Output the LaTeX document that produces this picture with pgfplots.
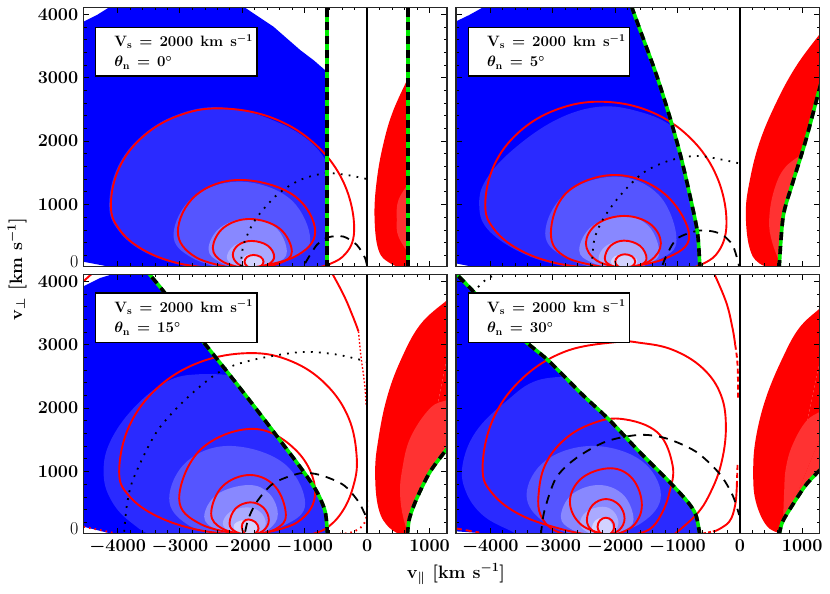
\RequirePackage{fix-cm}
\documentclass[border=0pt]{standalone}
\usepackage{pgfplots}
\usepackage{pgfplotstable}
\usepackage{amsmath}
\pgfplotsset{compat=1.18}

\definecolor{bA}{RGB}{0,0,255}
\definecolor{bB}{RGB}{42,42,255}
\definecolor{bC}{RGB}{85,85,255}
\definecolor{bD}{RGB}{136,136,255}
\definecolor{bE}{RGB}{170,170,255}
\definecolor{bF}{RGB}{210,210,255}
\definecolor{rA}{RGB}{255,0,0}
\definecolor{rB}{RGB}{255,50,50}
\definecolor{shockgreen}{RGB}{0,235,0}

% shock curves, left and right branches
\pgfplotstableread{
x y
-646 0
-646 4200
}\shockAl
\pgfplotstableread{
x y
652 0
652 4200
}\shockAr
\pgfplotstableread{
x y
-636 0
-641 24
-678 549
-785 1074
-946 1756
-1133 2412
-1346 3069
-1560 3646
-1731 4108
-1780 4250
}\shockBl
\pgfplotstableread{
x y
630 0
694 811
844 1336
1058 2019
1282 2848
1340 3050
}\shockBr
\pgfplotstableread{
x y
-636 0
-673 368
-807 684
-1020 1000
-1341 1421
-1768 1974
-2142 2447
-2569 2974
-2890 3368
-3264 3842
-3494 4116
-3600 4250
}\shockCl
\pgfplotstableread{
x y
646 0
678 263
796 579
1010 1000
1287 1368
1340 1440
}\shockCr
\pgfplotstableread{
x y
-641 0
-705 316
-839 526
-1133 842
-1613 1315
-2094 1816
-2521 2210
-3056 2737
-3376 3000
-3857 3395
-4284 3852
-4509 4079
-4650 4220
}\shockDl
\pgfplotstableread{
x y
630 0
684 210
844 474
1058 789
1282 1026
1340 1090
}\shockDr

\pgfplotsset{
  panel/.style={
    scale only axis, width=363.7pt, height=259.4pt,
    anchor=south west,
    xmin=-4550, xmax=1280, ymin=22, ymax=4110,
    xtick={-4000,-3000,-2000,-1000,0,1000},
    ytick={0,1000,2000,3000,4000},
    minor tick num=4,
    tick align=inside,
    xtick pos=both, ytick pos=both,
    major tick length=6pt, minor tick length=3.2pt,
    tick style={black,line width=1pt},
    minor tick style={black,line width=0.9pt},
    axis line style={line width=1.5pt,black!85},
    axis on top,
    no markers,
    scaled ticks=false,
    tick label style={font=\fontsize{18}{18}\selectfont\boldmath},
    xticklabel style={yshift=-3pt},
    yticklabel style={xshift=-1.5pt},
    /pgf/number format/1000 sep={},
    extra y ticks={95},
    extra y tick labels={0},
    extra y tick style={major tick length=0pt,tick style={draw=none}},
  },
  nox/.style={xticklabels={}},
  noy/.style={yticklabels={},extra y tick labels={}},
  fl/.style={fill=#1,draw=none,smooth,tension=0.65,forget plot},
  bl/.style={fill=#1,draw=none,forget plot},
  seam/.style={fill=#1,draw=#1,line width=0.8pt,forget plot},
  ct/.style={rA,line width=1.9pt,smooth,tension=0.65,forget plot},
  sh/.style={shockgreen,line width=3.6pt,smooth,forget plot},
  shk/.style={black,line width=3.6pt,smooth,dash pattern=on 8pt off 6pt,forget plot},
  dots/.style={black,line width=1.8pt,smooth,dash pattern=on 1.8pt off 6.2pt,forget plot},
  dashes/.style={black,line width=1.8pt,smooth,dash pattern=on 9pt off 7pt,forget plot},
  zero/.style={black,line width=1.5pt,forget plot},
}
\newcommand{\infobox}[3]{%
  \draw[line width=1.5pt,black,fill=white] (rel axis cs:0.034,#2) rectangle (rel axis cs:0.477,#3);
  \node[anchor=base west,inner sep=0pt,font=\fontsize{15}{16}\selectfont\bfseries\boldmath]
    at (rel axis cs:0.085,#2-0.074) {V$_{\mathbf{s}}$\hspace{7pt}=\hspace{7pt}2000\hspace{7pt}km\hspace{7pt}s$^{-1}$};
  \node[anchor=base west,inner sep=0pt,font=\fontsize{15}{16}\selectfont\bfseries\boldmath]
    at (rel axis cs:0.085,#2-0.153) {$\theta_{\mathbf{n}}$\hspace{7pt}=\hspace{7pt}#1$^{\circ}$};
}

\begin{document}
\begin{tikzpicture}[x=1pt,y=1pt]
\useasboundingbox (0,0) rectangle (830,594);

% ---------- theta = 0
\begin{axis}[panel,nox,at={(83.3pt,327.3pt)}]
\addplot[bl=bA] coordinates {(-4550,100)(-4012,0)(-646,0)(-646,3095)(-850,3270)(-1074,3437)(-1501,3804)(-1982,4120)(-4118,4120)(-4332,3988)(-4550,3882)};
\addplot[fl=bB] coordinates {(-2356,-50)(-3040,60)(-3620,280)(-4000,610)(-4135,995)(-4000,1590)(-3610,2085)(-3035,2420)(-2356,2533)(-1533,2340)(-837,1920)(-500,1300)(-400,600)(-400,-50)};
\addplot[fl=bC] coordinates {(-2035,-80)(-2791,153)(-3104,522)(-2791,1116)(-2035,1362)(-1242,1095)(-913,450)(-1242,132)(-2035,-80)};
\addplot[fl=bD] coordinates {(-1875,-50)(-2347,88)(-2543,300)(-2347,643)(-1875,785)(-1459,631)(-1287,260)(-1459,76)(-1875,-50)};
\addplot[fl=bE] coordinates {(-1848,-40)(-2131,50)(-2249,170)(-2131,356)(-1848,433)(-1610,356)(-1512,170)(-1610,50)(-1848,-40)};
\addplot[fl=bF] coordinates {(-1848,-30)(-1962,29)(-2009,100)(-1962,187)(-1848,223)(-1710,187)(-1650,100)(-1710,29)(-1848,-30)};
\addplot[bl=white] coordinates {(-646,-100)(-646,4300)(60,4300)(60,-100)};
\addplot[fl=rA] coordinates {(700,-50)(369,76)(182,286)(118,811)(155,1389)(262,1966)(422,2491)(700,3080)};
\addplot[fl=rB] coordinates {(700,1380)(502,1074)(475,759)(502,496)(700,180)};
\addplot[bl=white] coordinates {(652,-100)(652,4300)(1400,4300)(1400,-100)};
\addplot[ct] coordinates {(-850,-10)(-396,176)(-208,601)(-371,1335)(-837,1956)(-1533,2371)(-2356,2517)(-3027,2401)(-3595,2071)(-3975,1578)(-4108,995)(-3975,614)(-3595,291)(-3027,76)(-2356,-10)};
\addplot[ct] coordinates {(-2035,-20)(-2741,168)(-3034,575)(-2741,1151)(-2035,1389)(-1185,1151)(-833,575)(-1185,168)(-2035,-20)};
\addplot[ct] coordinates {(-1875,-20)(-2298,92)(-2473,313)(-2298,639)(-1875,774)(-1403,623)(-1207,260)(-1403,76)(-1875,-20)};
\addplot[ct] coordinates {(-1848,-20)(-2064,61)(-2153,208)(-2064,364)(-1848,428)(-1595,355)(-1490,180)(-1595,53)(-1848,-20)};
\addplot[ct] coordinates {(-1822,-20)(-1924,29)(-1966,100)(-1924,176)(-1822,207)(-1708,176)(-1661,100)(-1708,29)(-1822,-20)};
\addplot[dots] coordinates {(-2025,24)(-1982,365)(-1795,759)(-1448,1152)(-1074,1389)(-673,1494)(-326,1467)(-5,1404)};
\addplot[dashes] coordinates {(-994,76)(-807,365)(-620,486)(-379,496)(-166,365)(-32,155)(0,0)};
\addplot[sh] table {\shockAl};
\addplot[shk] table {\shockAl};
\addplot[sh] table {\shockAr};
\addplot[shk] table {\shockAr};
\addplot[zero] coordinates {(0,0)(0,4200)};
\infobox{0}{0.923}{0.735}
\end{axis}

% ---------- theta = 5
\begin{axis}[panel,nox,noy,at={(456pt,327.3pt)}]
\addplot[bl=bA] coordinates {(-4562,76)(-4178,0)(-636,0)(-641,24)(-678,549)(-785,1074)(-946,1756)(-1133,2412)(-1346,3069)(-1560,3646)(-1731,4108)(-1780,4120)(-4097,4120)(-4338,3988)(-4562,3882)};
\addplot[fl=bB] coordinates {(-2254,-50)(-2960,60)(-3560,270)(-4050,620)(-4178,995)(-4071,1389)(-3643,1861)(-2949,2334)(-2254,2543)(-1613,2465)(-1079,2229)(-700,1800)(-400,900)(-400,-50)};
\addplot[fl=bC] coordinates {(-1987,-80)(-2788,161)(-3120,549)(-2788,1180)(-1987,1441)(-1300,1153)(-1015,450)(-1300,132)(-1987,-80)};
\addplot[fl=bD] coordinates {(-1854,-50)(-2364,84)(-2575,286)(-2364,665)(-1854,822)(-1457,654)(-1293,250)(-1457,73)(-1854,-50)};
\addplot[fl=bE] coordinates {(-1854,-40)(-2145,45)(-2265,155)(-2145,351)(-1854,433)(-1601,351)(-1496,155)(-1601,45)(-1854,-40)};
\addplot[fl=bF] coordinates {(-1854,-30)(-2005,29)(-2067,100)(-2005,187)(-1854,223)(-1703,187)(-1640,100)(-1703,29)(-1854,-30)};
\addplot[bl=white] coordinates {(-636,-100)(-641,24)(-678,549)(-785,1074)(-946,1756)(-1133,2412)(-1346,3069)(-1560,3646)(-1731,4108)(-1780,4250)(60,4250)(60,-100)};
\addplot[fl=rA] coordinates {(680,-50)(310,76)(150,339)(96,864)(150,1336)(310,1966)(577,2596)(897,3174)(1290,3699)(1500,3950)};
\addplot[seam=rA] coordinates {(680,-50)(1500,-50)(1500,3950)};
\addplot[fl=rB] coordinates {(1100,1850)(737,1599)(550,1231)(470,759)(523,391)(700,-50)};
\addplot[bl=white] coordinates {(630,-100)(630,24)(694,811)(844,1336)(1058,2019)(1282,2848)(1340,3050)(1600,3050)(1600,-100)};
\addplot[ct] coordinates {(-800,-10)(-386,205)(-214,700)(-367,1436)(-804,2059)(-1457,2476)(-2228,2622)(-2938,2498)(-3538,2145)(-3940,1618)(-4081,995)(-3940,614)(-3538,291)(-2938,76)(-2228,-10)};
\addplot[ct] coordinates {(-1987,-10)(-2766,161)(-3029,549)(-2766,1198)(-1987,1467)(-1208,1171)(-812,500)(-1208,146)(-1987,-10)};
\addplot[ct] coordinates {(-1854,-10)(-2288,115)(-2468,391)(-2288,696)(-1854,822)(-1438,696)(-1266,391)(-1438,115)(-1854,-10)};
\addplot[ct] coordinates {(-1854,-10)(-2073,45)(-2164,155)(-2073,351)(-1854,433)(-1601,351)(-1496,155)(-1601,45)(-1854,-10)};
\addplot[ct] coordinates {(-1843,-10)(-1952,29)(-1998,100)(-1952,183)(-1843,218)(-1726,183)(-1677,100)(-1726,29)(-1843,-10)};
\addplot[dots] coordinates {(-2372,24)(-2334,443)(-2201,759)(-1934,1126)(-1560,1494)(-1133,1693)(-652,1767)(-11,1651)};
\addplot[dashes] coordinates {(-1239,50)(-1159,234)(-999,470)(-652,591)(-331,549)(-118,365)(-11,24)};
\addplot[sh] table {\shockBl};
\addplot[shk] table {\shockBl};
\addplot[sh] table {\shockBr};
\addplot[shk] table {\shockBr};
\addplot[zero] coordinates {(0,0)(0,4200)};
\infobox{5}{0.923}{0.735}
\end{axis}

% ---------- theta = 15
\begin{axis}[panel,at={(83.3pt,60.3pt)}]
\addplot[bl=bA] coordinates {(-4546,132)(-4012,0)(-636,0)(-673,368)(-807,684)(-1020,1000)(-1341,1421)(-1768,1974)(-2142,2447)(-2569,2974)(-2890,3368)(-3264,3842)(-3494,4116)(-4065,4116)(-4279,4052)(-4546,3921)};
\addplot[fl=bB] coordinates {(-1900,2500)(-2676,2536)(-3211,2420)(-3745,2000)(-4119,1473)(-4225,1000)(-4119,579)(-3798,210)(-3264,-50)(-2000,-150)(-400,-150)(-400,1500)};
\addplot[fl=bC] coordinates {(-2196,-80)(-2887,170)(-3173,579)(-2887,1163)(-2196,1405)(-1346,1139)(-994,500)(-1346,146)(-2196,-80)};
\addplot[fl=bD] coordinates {(-1902,-50)(-2404,85)(-2612,289)(-2404,642)(-1902,789)(-1570,654)(-1432,330)(-1570,97)(-1902,-50)};
\addplot[fl=bE] coordinates {(-1928,-40)(-2200,54)(-2313,184)(-2200,363)(-1928,437)(-1713,363)(-1624,184)(-1713,54)(-1928,-40)};
\addplot[fl=bF] coordinates {(-1955,-30)(-2087,39)(-2142,132)(-2087,206)(-1955,237)(-1816,203)(-1758,120)(-1816,35)(-1955,-30)};
\addplot[bl=white] coordinates {(-636,-100)(-636,0)(-673,368)(-807,684)(-1020,1000)(-1341,1421)(-1768,1974)(-2142,2447)(-2569,2974)(-2890,3368)(-3264,3842)(-3494,4116)(-3600,4250)(60,4250)(60,-100)};
\addplot[fl=rA] coordinates {(700,-60)(369,105)(182,421)(128,1000)(182,1526)(315,2157)(529,2737)(849,3315)(1290,3710)(1500,3880)};
\addplot[seam=rA] coordinates {(700,-60)(1500,-60)(1500,3880)};
\addplot[fl=rB] coordinates {(700,-100)(582,263)(529,632)(556,1000)(689,1526)(1010,2000)(1290,2130)(1500,2200)};
\addplot[seam=rB] coordinates {(700,-100)(1500,-100)(1500,2200)};
\addplot[bl=white] coordinates {(646,-100)(646,0)(678,263)(796,579)(1010,1000)(1287,1368)(1340,1440)(1600,1440)(1600,-100)};
\addplot[ct] coordinates {(-604,4200)(-379,3789)(-219,3421)(-139,3210)};
\addplot[ct,line width=1.4pt,dash pattern=on 1.6pt off 2pt] coordinates {(-139,3210)(-102,2840)(-61,2540)(-32,2300)(-16,2050)};
\addplot[ct,dash pattern=on 1.6pt off 4pt] coordinates {(0,550)(-32,210)(-219,53)(-433,22)};
\addplot[ct,dash pattern=on 1.6pt off 4pt] coordinates {(-4546,132)(-4279,79)(-4012,22)};
\addplot[ct] coordinates {(-4546,4000)(-4412,4120)};
\addplot[ct] coordinates {(-1000,-10)(-681,92)(-410,354)(-229,747)(-166,1210)(-296,1845)(-667,2382)(-1220,2742)(-1875,2868)(-2679,2726)(-3360,2321)(-3815,1715)(-3975,1000)(-3815,617)(-3360,293)(-2679,76)(-1875,-10)};
\addplot[ct] coordinates {(-1900,-10)(-2664,170)(-3013,579)(-2664,1353)(-1822,1674)(-1123,1319)(-833,684)(-1123,200)(-1900,-10)};
\addplot[ct] coordinates {(-1875,-10)(-2317,100)(-2500,342)(-2317,770)(-1875,947)(-1471,762)(-1303,316)(-1471,93)(-1875,-10)};
\addplot[ct] coordinates {(-1875,-10)(-2109,54)(-2206,184)(-2109,419)(-1875,516)(-1664,434)(-1576,237)(-1664,69)(-1875,-10)};
\addplot[ct] coordinates {(-1902,-10)(-1978,39)(-2009,132)(-1978,213)(-1902,247)(-1789,203)(-1741,105)(-1789,31)(-1902,-10)};
\addplot[dots] coordinates {(-3894,53)(-3851,474)(-3745,895)(-3371,1631)(-2890,2157)(-2356,2579)(-1822,2763)(-1074,2884)(-540,2853)(-112,2763)(-5,2726)};
\addplot[dashes] coordinates {(-1955,53)(-1902,263)(-1768,526)(-1501,816)(-1074,974)(-753,947)(-379,789)(-139,526)(-5,263)};
\addplot[sh] table {\shockCl};
\addplot[shk] table {\shockCl};
\addplot[sh] table {\shockCr};
\addplot[shk] table {\shockCr};
\addplot[zero] coordinates {(0,0)(0,4200)};
\infobox{15}{0.927}{0.738}
\end{axis}

% ---------- theta = 30
\begin{axis}[panel,noy,at={(456pt,60.3pt)}]
\addplot[bl=bA] coordinates {(-4562,60)(-3700,0)(-641,0)(-705,316)(-839,526)(-1133,842)(-1613,1315)(-2094,1816)(-2521,2210)(-3056,2737)(-3376,3000)(-3857,3395)(-4284,3852)(-4509,4079)(-4562,4120)};
\addplot[fl=bB] coordinates {(-2400,2500)(-3216,2447)(-3750,2105)(-4231,1631)(-4445,1105)(-4391,684)(-4124,316)(-3697,79)(-3323,-50)(-2000,-150)(-400,-150)(-400,1500)};
\addplot[fl=bC] coordinates {(-2361,-80)(-3109,185)(-3419,632)(-3109,1178)(-2361,1405)(-1587,1178)(-1266,632)(-1587,185)(-2361,-80)};
\addplot[fl=bD] coordinates {(-2254,-50)(-2689,85)(-2869,289)(-2689,643)(-2254,789)(-1865,631)(-1704,250)(-1865,73)(-2254,-50)};
\addplot[fl=bE] coordinates {(-2201,-40)(-2458,54)(-2564,184)(-2458,370)(-2201,447)(-2020,370)(-1945,184)(-2020,54)(-2201,-40)};
\addplot[fl=bF] coordinates {(-2201,-30)(-2322,32)(-2372,110)(-2322,226)(-2201,274)(-2087,226)(-2040,110)(-2087,32)(-2201,-30)};
\addplot[bl=white] coordinates {(-641,-100)(-641,0)(-705,316)(-839,526)(-1133,842)(-1613,1315)(-2094,1816)(-2521,2210)(-3056,2737)(-3376,3000)(-3857,3395)(-4284,3852)(-4509,4079)(-4650,4220)(60,4220)(60,-100)};
\addplot[fl=rA] coordinates {(700,20)(443,132)(256,526)(214,1000)(256,1526)(417,2158)(684,2790)(951,3263)(1290,3579)(1500,3760)};
\addplot[seam=rA] coordinates {(700,20)(1500,20)(1500,3760)};
\addplot[fl=rB] coordinates {(690,100)(710,684)(737,1053)(844,1421)(1058,1789)(1290,1947)(1500,2050)};
\addplot[seam=rB] coordinates {(690,100)(1500,100)(1500,2050)};
\addplot[bl=white] coordinates {(630,-100)(630,0)(684,210)(844,474)(1058,789)(1282,1026)(1340,1090)(1600,1090)(1600,-100)};
\addplot[ct] coordinates {(-449,4200)(-224,3684)(-118,3263)(-75,3000)};
\addplot[ct,dash pattern=on 5pt off 3pt] coordinates {(-75,3000)(-37,2684)(-27,2158)};
\addplot[ct,dash pattern=on 5pt off 3pt] coordinates {(-37,1105)(-48,789)};
\addplot[ct] coordinates {(-48,789)(-75,474)(-171,210)(-385,68)};
\addplot[ct,dash pattern=on 3pt off 2pt] coordinates {(-385,68)(-598,22)};
\addplot[ct,dash pattern=on 6pt off 4pt] coordinates {(-4552,105)(-4177,40)};
\addplot[ct] coordinates {(-1079,-10)(-705,316)(-491,632)(-304,1105)(-224,1684)(-304,2210)(-598,2632)(-1079,2921)(-1600,3030)(-1987,3042)(-2805,2891)(-3498,2459)(-3961,1815)(-4124,1053)(-3961,650)(-3498,309)(-2805,80)(-2300,-10)};
\addplot[ct] coordinates {(-2700,-10)(-3000,90)(-3194,316)(-3227,632)(-3127,1092)(-2840,1480)(-2412,1741)(-1907,1832)(-1322,1619)(-1079,1105)(-1126,682)(-1261,324)(-1460,84)(-1800,-10)};
\addplot[ct] coordinates {(-2067,-10)(-2532,154)(-2724,526)(-2532,899)(-2067,1053)(-1716,882)(-1571,474)(-1716,139)(-2067,-10)};
\addplot[ct] coordinates {(-2147,-10)(-2362,69)(-2452,237)(-2362,471)(-2147,568)(-1936,475)(-1848,263)(-1936,77)(-2147,-10)};
\addplot[ct] coordinates {(-2147,-10)(-2242,39)(-2281,132)(-2242,232)(-2147,274)(-2053,232)(-2014,132)(-2053,39)(-2147,-10)};
\addplot[dots] coordinates {(-4284,3816)(-4071,4026)(-3884,4116)};
\addplot[dashes] coordinates {(-3189,0)(-3136,368)(-2949,895)(-2628,1210)(-2147,1474)(-1613,1579)(-1186,1526)(-705,1315)(-331,974)(-118,632)(-11,316)};
\addplot[sh] table {\shockDl};
\addplot[shk] table {\shockDl};
\addplot[sh] table {\shockDr};
\addplot[shk] table {\shockDr};
\addplot[zero] coordinates {(0,0)(0,4200)};
\infobox{30}{0.927}{0.738}
\end{axis}

\node[font=\fontsize{18}{18}\selectfont\bfseries\boldmath] at (456,20) {v$_{\parallel}$\hspace{7pt}[km\hspace{7pt}s$^{-1}$]};
\node[rotate=90,font=\fontsize{18}{18}\selectfont\bfseries\boldmath] at (17,325) {v$_{\perp}$\hspace{7pt}[km\hspace{7pt}s$^{-1}$]};
\end{tikzpicture}
\end{document}
